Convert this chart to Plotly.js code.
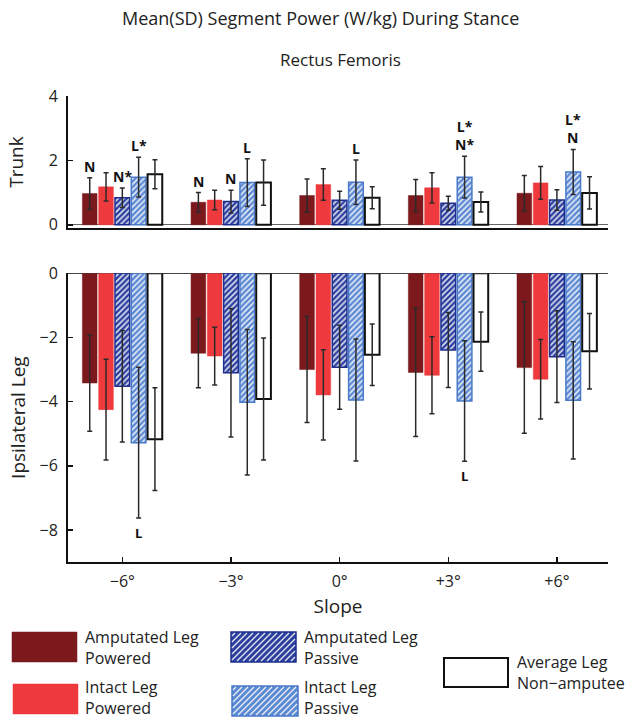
<!DOCTYPE html>
<html>
<head>
<meta charset="utf-8">
<script src="https://cdn.plot.ly/plotly-3.0.1.min.js"></script>
<style>html,body{margin:0;padding:0;background:#fff}#chart{width:635px;height:720px}</style>
</head>
<body>
<div id="chart"></div>
<script>
// ---- data ----
const slopes = ['\u22126\u00b0', '\u22123\u00b0', '0\u00b0', '+3\u00b0', '+6\u00b0'];
const seriesLine1 = ['Amputated Leg', 'Intact Leg', 'Amputated Leg', 'Intact Leg', 'Average Leg'];
const seriesLine2 = ['Powered', 'Powered', 'Passive', 'Passive', 'Non\u2212amputee'];

const ampPowTrunk = [0.97, 0.70, 0.91, 0.91, 0.98];
const ampPowTrunkSD = [0.49, 0.30, 0.51, 0.50, 0.55];
const intPowTrunk = [1.18, 0.77, 1.25, 1.15, 1.30];
const intPowTrunkSD = [0.44, 0.30, 0.49, 0.47, 0.51];
const ampPasTrunk = [0.84, 0.72, 0.76, 0.67, 0.77];
const ampPasTrunkSD = [0.30, 0.35, 0.28, 0.22, 0.32];
const intPasTrunk = [1.48, 1.31, 1.32, 1.48, 1.64];
const intPasTrunkSD = [0.62, 0.74, 0.69, 0.65, 0.70];
const nonAmpTrunk = [1.57, 1.31, 0.84, 0.71, 0.99];
const nonAmpTrunkSD = [0.45, 0.70, 0.34, 0.31, 0.50];

const ampPowLeg = [-3.42, -2.49, -3.00, -3.09, -2.94];
const ampPowLegSD = [1.50, 1.08, 1.65, 2.00, 2.05];
const intPowLeg = [-4.25, -2.58, -3.79, -3.18, -3.30];
const intPowLegSD = [1.57, 0.90, 1.41, 1.20, 1.24];
const ampPasLeg = [-3.52, -3.10, -2.93, -2.39, -2.60];
const ampPasLegSD = [1.74, 2.00, 1.31, 1.17, 1.43];
const intPasLeg = [-5.28, -4.02, -3.95, -3.98, -3.96];
const intPasLegSD = [2.35, 2.27, 1.90, 1.88, 1.83];
const nonAmpLeg = [-5.17, -3.92, -2.54, -2.13, -2.43];
const nonAmpLegSD = [1.60, 1.90, 0.96, 0.92, 1.18];

// significance labels (per series, per slope)
const trunkSig = [
  ['N', 'N', '', '', ''],
  ['', '', '', '', ''],
  ['N*', 'N', '', '', ''],
  ['L*', 'L', 'L', 'L*<br>N*', 'L*<br>N'],
  ['', '', '', '', '']
];
const legSig = [
  ['', '', '', '', ''],
  ['', '', '', '', ''],
  ['', '', '', '', ''],
  ['L', '', '', 'L', ''],
  ['', '', '', '', '']
];

// ---- styles ----
const FONT = 'Open Sans, Noto Sans, sans-serif';
const styles = [
  {color: '#7b191c', line: {color: '#7b191c', width: 0.5}},
  {color: '#ee3a3c', line: {color: '#ee3a3c', width: 0.5}},
  {color: '#2b3e9e', line: {color: '#1e2f8e', width: 1.5},
   pattern: {shape: '/', fillmode: 'overlay', bgcolor: '#2b3e9e', fgcolor: '#ffffff', fgopacity: 0.85, size: 4, solidity: 0.4}},
  {color: '#5b88d2', line: {color: '#4a79c9', width: 1.5},
   pattern: {shape: '/', fillmode: 'overlay', bgcolor: '#5b88d2', fgcolor: '#ffffff', fgopacity: 0.85, size: 4, solidity: 0.4}},
  {color: '#ffffff', line: {color: '#111111', width: 2}}
];

const trunkVals = [ampPowTrunk, intPowTrunk, ampPasTrunk, intPasTrunk, nonAmpTrunk];
const trunkSDs = [ampPowTrunkSD, intPowTrunkSD, ampPasTrunkSD, intPasTrunkSD, nonAmpTrunkSD];
const legVals = [ampPowLeg, intPowLeg, ampPasLeg, intPasLeg, nonAmpLeg];
const legSDs = [ampPowLegSD, intPowLegSD, ampPasLegSD, intPasLegSD, nonAmpLegSD];

const BARGAP = 0.25;
const slot = (1 - BARGAP) / 5;

const errStyle = (arr) => ({type: 'data', array: arr, visible: true, color: '#2a2a2a', thickness: 1.5, width: 2.5});

const traces = [];
for (let s = 0; s < 5; s++) {
  traces.push({
    type: 'bar', x: slopes, y: trunkVals[s], xaxis: 'x2', yaxis: 'y2',
    name: seriesLine1[s] + ' ' + seriesLine2[s], showlegend: false, hoverinfo: 'skip',
    marker: styles[s], error_y: errStyle(trunkSDs[s])
  });
}
for (let s = 0; s < 5; s++) {
  traces.push({
    type: 'bar', x: slopes, y: legVals[s], xaxis: 'x', yaxis: 'y',
    name: seriesLine1[s] + ' ' + seriesLine2[s], showlegend: false, hoverinfo: 'skip',
    marker: styles[s], error_y: errStyle(legSDs[s])
  });
}

// ---- annotations ----
const annotations = [];
for (let s = 0; s < 5; s++) {
  for (let c = 0; c < slopes.length; c++) {
    if (trunkSig[s][c]) {
      annotations.push({
        xref: 'x2', yref: 'y2', x: c + (s - 2) * slot, y: trunkVals[s][c] + trunkSDs[s][c],
        text: '<b>' + trunkSig[s][c] + '</b>', showarrow: false, xanchor: 'center', yanchor: 'bottom', yshift: 0,
        font: {family: FONT, size: 14, color: '#111'}
      });
    }
    if (legSig[s][c]) {
      annotations.push({
        xref: 'x', yref: 'y', x: c + (s - 2) * slot, y: legVals[s][c] - legSDs[s][c],
        text: '<b>' + legSig[s][c] + '</b>', showarrow: false, xanchor: 'center', yanchor: 'top', yshift: -4,
        font: {family: FONT, size: 13, color: '#111'}
      });
    }
  }
}

// pixel -> paper helpers (plot area 68..608 x 96..562)
const PL = 68, PR = 608, PT = 96, PB = 562;
const px = p => (p - PL) / (PR - PL);
const py = p => (PB - p) / (PB - PT);

// titles
annotations.push({xref: 'paper', yref: 'paper', x: px(320), y: py(18), xanchor: 'center', yanchor: 'middle',
  text: 'Mean(SD) Segment Power (W/kg) During Stance',
  showarrow: false, font: {family: FONT, size: 18, color: '#222'}});
annotations.push({xref: 'paper', yref: 'paper', x: px(340), y: py(59), xanchor: 'center', yanchor: 'middle',
  text: 'Rectus Femoris', showarrow: false, font: {family: FONT, size: 17, color: '#222'}});

// ---- custom legend ----
const legendItems = [
  {rect: [12, 77, 632, 662], tx: 83, ty: 647},
  {rect: [13, 78, 684, 714], tx: 83, ty: 697},
  {rect: [231, 296, 632, 662], tx: 302, ty: 647},
  {rect: [232, 298, 686, 716], tx: 302, ty: 697},
  {rect: [444, 508, 658, 687], tx: 515, ty: 672}
];
const shapes = [];
function hatchPath(x0, x1, y0, y1, step) {
  let d = '';
  for (let c = x0 + y0 + step / 2; c < x1 + y1; c += step) {
    const lo = Math.max(x0, c - y1), hi = Math.min(x1, c - y0);
    if (hi > lo) {
      d += 'M' + px(lo).toFixed(5) + ',' + py(c - lo).toFixed(5) + 'L' + px(hi).toFixed(5) + ',' + py(c - hi).toFixed(5);
    }
  }
  return d;
}
legendItems.forEach((it, s) => {
  const [x0, x1, y0, y1] = it.rect;
  const st = styles[s];
  shapes.push({type: 'rect', xref: 'paper', yref: 'paper', x0: px(x0), x1: px(x1), y0: py(y1), y1: py(y0),
    fillcolor: st.color, line: {color: st.line.color, width: s === 4 ? 2 : (s >= 2 ? 1.5 : 0.5)}, layer: 'above'});
  if (st.pattern) {
    shapes.push({type: 'path', xref: 'paper', yref: 'paper', path: hatchPath(x0 + 1, x1 - 1, y0 + 1, y1 - 1, 6),
      line: {color: 'rgba(255,255,255,0.85)', width: 1.4}, layer: 'above'});
  }
  annotations.push({xref: 'paper', yref: 'paper', x: px(it.tx), y: py(it.ty), xanchor: 'left', yanchor: 'middle',
    align: 'left', text: seriesLine1[s] + '<br>' + seriesLine2[s], showarrow: false,
    font: {family: FONT, size: 16, color: '#222'}});
});

const xRange = [-0.5, 4.47];
const layout = {
  width: 635, height: 720,
  margin: {l: PL, r: 635 - PR, t: PT, b: 720 - PB, pad: 0},
  paper_bgcolor: '#fff', plot_bgcolor: '#fff',
  font: {family: FONT, size: 16, color: '#222'},
  barmode: 'group', bargap: BARGAP, bargroupgap: 0.1,
  showlegend: false,
  xaxis: {
    anchor: 'y', domain: [0, 1], type: 'category', range: xRange,
    showline: true, linecolor: '#111', linewidth: 2, ticks: 'inside', ticklen: 5, tickwidth: 1.5, tickcolor: '#111',
    ticklabelstandoff: 4,
    tickfont: {family: FONT, size: 16, color: '#222'}, showgrid: false, zeroline: false,
    title: {text: 'Slope', font: {family: FONT, size: 19, color: '#222'}, standoff: 8}
  },
  yaxis: {
    anchor: 'x', domain: [0, 0.6195], range: [-9.0, 0], tickvals: [-8, -6, -4, -2, 0],
    showline: true, linecolor: '#111', linewidth: 2, ticks: 'inside', ticklen: 5, tickwidth: 1.5, tickcolor: '#111',
    ticklabelstandoff: 5,
    tickfont: {family: FONT, size: 16, color: '#222'}, showgrid: false,
    zeroline: true, zerolinecolor: '#444', zerolinewidth: 1,
    title: {text: 'Ipsilateral Leg', font: {family: FONT, size: 19, color: '#222'}, standoff: 9}
  },
  xaxis2: {
    anchor: 'y2', domain: [0, 1], type: 'category', range: xRange,
    showline: true, linecolor: '#111', linewidth: 2, ticks: '', showticklabels: false, showgrid: false, zeroline: false
  },
  yaxis2: {
    anchor: 'x2', domain: [0.7167, 1], range: [-0.1, 4], tickvals: [0, 2, 4],
    showline: true, linecolor: '#111', linewidth: 2, ticks: 'inside', ticklen: 5, tickwidth: 1.5, tickcolor: '#111',
    ticklabelstandoff: 5,
    tickfont: {family: FONT, size: 16, color: '#222'}, showgrid: false,
    zeroline: true, zerolinecolor: '#666', zerolinewidth: 1,
    title: {text: 'Trunk', font: {family: FONT, size: 19, color: '#222'}, standoff: 20}
  },
  annotations: annotations,
  shapes: shapes
};

Plotly.newPlot('chart', traces, layout, {staticPlot: true, displayModeBar: false});
</script>
</body>
</html>
